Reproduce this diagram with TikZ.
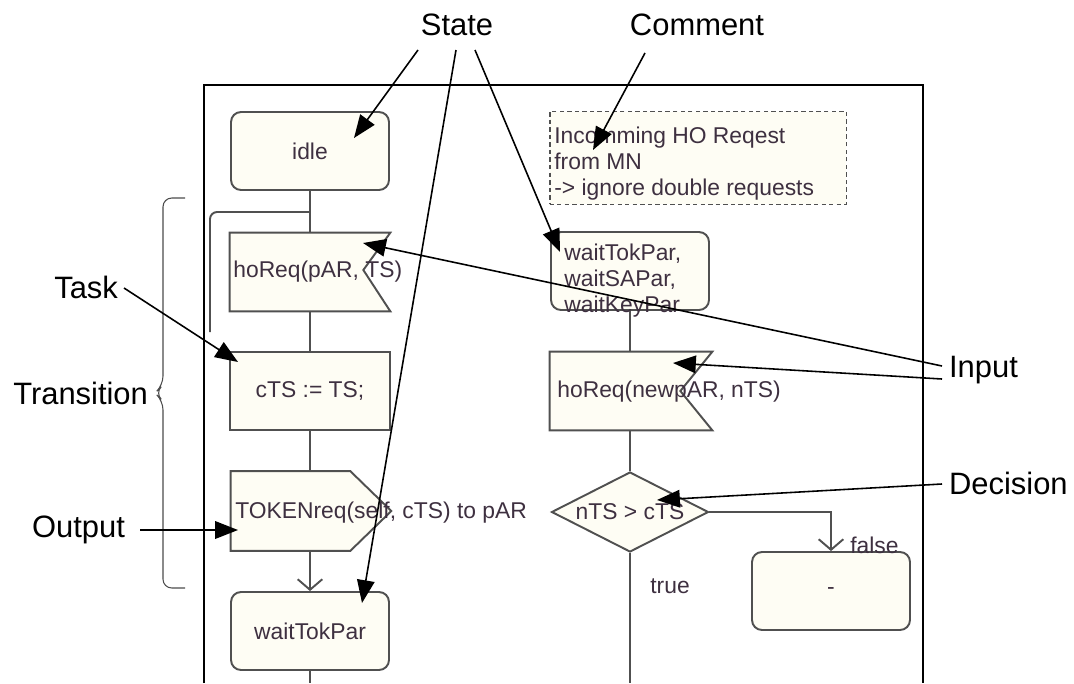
\documentclass[tikz,border=0pt]{standalone}
\usepackage{fontspec}
\setmainfont{Liberation Sans}
\usetikzlibrary{arrows.meta,shapes.geometric,positioning}

\definecolor{sdlline}{RGB}{80,80,80}
\definecolor{sdlfill}{RGB}{254,253,244}
\definecolor{sdltext}{RGB}{62,48,64}

\tikzset{
  sdl/.style={draw=sdlline, fill=sdlfill, line width=1.1pt, inner sep=0pt,
    text=sdltext, font=\fontsize{13}{14.7}\selectfont},
  statebox/.style={sdl, rectangle, rounded corners=0.2cm,
    minimum width=3.16cm, minimum height=1.56cm},
  taskbox/.style={sdl, rectangle, minimum width=3.2cm, minimum height=1.56cm},
  slot/.style={rectangle, inner sep=0pt, minimum width=3.2cm, minimum height=1.56cm},
  sdlpath/.style={draw=sdlline, fill=sdlfill, line width=1.1pt, line join=miter},
  decisionbox/.style={sdl, diamond, aspect=2, minimum width=3.14cm, minimum height=1.6cm},
  commentbox/.style={draw=sdlline, fill=sdlfill, line width=1.1pt,
    dash pattern=on 2.5pt off 1.8pt, minimum width=5.94cm, minimum height=1.86cm},
  sdltxt/.style={inner sep=0pt, text=sdltext, font=\fontsize{13}{14.7}\selectfont, align=left},
  flow/.style={draw=sdlline, line width=1.1pt},
  flowarrow/.style={flow, -{Straight Barb[length=6pt,width=14pt]}},
  ann/.style={font=\fontsize{17.6}{20}\selectfont, inner sep=1pt},
  annarrow/.style={line width=0.9pt, -{Triangle[length=13pt,width=10pt]}},
}

\begin{document}
\begin{tikzpicture}[x=0.02cm, y=-0.02cm]
  \useasboundingbox (0,0) rectangle (1074,683);
  % editor frame
  \draw[line width=0.6pt] (204,683) -- (204,85) -- (923,85) -- (923,683);

  % left transition
  \node[statebox] (idle) at (310,151) {idle};
  \node[slot] (in1) at (310,272) {};
  \draw[sdlpath] (in1.north west) -- (in1.north east) -- ([shift={(-27,-2)}]in1.east)
    -- (in1.south east) -- (in1.south west) -- cycle;
  \node[taskbox] (task) at (310,391) {cTS := TS;};
  \node[slot, minimum height=1.58cm] (out) at (311,511) {};
  \draw[sdlpath] (out.north west) -- ([shift={(-41,0)}]out.north east) -- (out.east)
    -- ([shift={(-41,0)}]out.south east) -- (out.south west) -- cycle;
  \node[statebox] (wtp) at (310,631) {waitTokPar};
  \node[sdltxt, anchor=west] (in1txt) at (233,272) {hoReq(pAR, TS)};
  \node[sdltxt, anchor=west] (outtxt) at (235,513) {TOKENreq(self, cTS) to pAR};
  \coordinate (fork) at (310,212);
  \coordinate (loopend) at (210,332);
  \coordinate (leftend) at (310,683);
  \draw[flow] (idle) -- (in1);
  \draw[flow, rounded corners=4pt] (fork) -| (loopend);
  \draw[flow] (in1) -- (task);
  \draw[flow] (task) -- (out.north -| task);
  \draw[flowarrow] (out.south -| wtp) -- (wtp.north);
  \draw[flow] (wtp) -- (leftend);

  % right transition
  \node[commentbox] (cmt) at (698,158) {};
  \node[sdltxt, anchor=north west] (cmttxt) at (554,127)
    {Incomming HO Reqest\\from MN\\-> ignore double requests};
  \node[statebox] (wst) at (630,271) {};
  \node[sdltxt, anchor=north west] (wsttxt) at (564,244) {waitTokPar,\\waitSAPar,\\waitKeyPar};
  \node[slot, minimum width=3.24cm] (in2) at (631,391) {};
  \draw[sdlpath] (in2.north west) -- (in2.north east) -- ([shift={(-32,0)}]in2.east)
    -- (in2.south east) -- (in2.south west) -- cycle;
  \node[sdltxt, anchor=west] (in2txt) at (557,392) {hoReq(newpAR, nTS)};
  \node[decisionbox] (dec) at (630,512) {nTS > cTS};
  \node[statebox] (nop) at (831,591) {-};
  \node[sdltxt, anchor=west] (lfalse) at (850,545) {false};
  \node[sdltxt, anchor=west] (ltrue) at (650,586) {true};
  \coordinate (rightend) at (630,683);
  \draw[flow] (wst) -- (in2.north -| wst);
  \draw[flow] (in2.south -| dec) -- (dec);
  \draw[flowarrow] (dec.east) -| (nop.north);
  \draw[flow] (dec.south) -- (rightend);

  % brace for the transition
  \draw[black!70, line width=0.6pt, rounded corners=5pt]
    (185,198) -- (163,198) -- (163,385) -- (155,393) -- (163,401) -- (163,588) -- (185,588);

  % annotations
  \node[ann] (lState) at (457,25) {State};
  \node[ann] (lComment) at (697,25) {Comment};
  \node[ann, anchor=east] (lTask) at (120,287) {Task};
  \node[ann, anchor=east] (lTransition) at (150,393) {Transition};
  \node[ann, anchor=east] (lOutput) at (127,530) {Output};
  \node[ann, anchor=west] (lInput) at (947,370) {Input};
  \node[ann, anchor=west] (lDecision) at (947,483) {Decision};
  \draw[annarrow] ([shift={(-39,25)}]lState.center) -- ([shift={(44,-13)}]idle.center);
  \draw[annarrow] ([shift={(-1,25)}]lState.center) -- ([shift={(52,-28)}]wtp.center);
  \draw[annarrow] ([shift={(18,25)}]lState.center) -- ([shift={(-70,-19)}]wst.center);
  \draw[annarrow] ([shift={(-52,28)}]lComment.center) -- ([shift={(-105,-8)}]cmt.center);
  \draw[annarrow] ([shift={(4,1)}]lTask.east) -- ([shift={(-72,-29)}]task.center);
  \draw[annarrow] ([shift={(13,0)}]lOutput.east) -- ([shift={(-73,19)}]out.center);
  \draw[annarrow] ([shift={(-5,-4)}]lInput.west) -- ([shift={(53,-29)}]in1.center);
  \draw[annarrow] ([shift={(-5,9)}]lInput.west) -- ([shift={(42,-28)}]in2.center);
  \draw[annarrow] ([shift={(-5,1)}]lDecision.west) -- ([shift={(27,-12)}]dec.center);
\end{tikzpicture}
\end{document}
